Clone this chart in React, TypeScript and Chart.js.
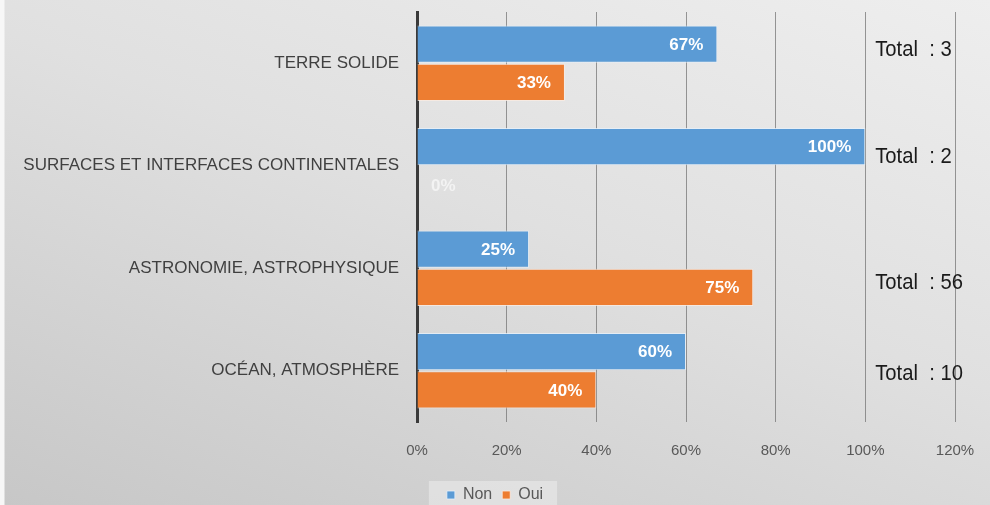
import React, { useEffect, useRef } from "react";
import { Chart, registerables } from "chart.js";

Chart.register(...registerables);

const categories = [
  "TERRE SOLIDE",
  "SURFACES ET INTERFACES CONTINENTALES",
  "ASTRONOMIE, ASTROPHYSIQUE",
  "OCÉAN, ATMOSPHÈRE",
];
const nonValues = [0.67, 1.0, 0.25, 0.6];
const ouiValues = [0.33, 0, 0.75, 0.4];
const totals = [3, 2, 56, 10];
const seriesNames = ["Non", "Oui"];

const BLUE = "#5b9bd5";
const ORANGE = "#ed7d31";
const SANS = "'Liberation Sans', Arial, sans-serif";

const TOTAL_DY = [-13, -9, 15, 3];

const labelPlugin = {
  id: "barLabels",
  beforeDraw(chart: any) {
    const lg = chart.legend;
    if (!lg || !lg.legendHitBoxes || !lg.legendHitBoxes.length) return;
    const boxes = lg.legendHitBoxes;
    let minL = Infinity, maxR = -Infinity, minT = Infinity;
    boxes.forEach((b: any) => {
      minL = Math.min(minL, b.left);
      maxR = Math.max(maxR, b.left + b.width);
      minT = Math.min(minT, b.top);
    });
    const ctx = chart.ctx;
    ctx.save();
    ctx.fillStyle = "rgba(240,240,240,0.5)";
    ctx.fillRect(minL - 18, minT - 6, maxR - minL + 32, chart.height - minT + 6);
    ctx.restore();
  },
  afterDatasetsDraw(chart: any) {
    const ctx = chart.ctx;
    ctx.save();
    ctx.font = `bold 17px ${SANS}`;
    ctx.textBaseline = "middle";
    ctx.textAlign = "right";
    chart.data.datasets.forEach((ds: any, di: number) => {
      const meta = chart.getDatasetMeta(di);
      meta.data.forEach((el: any, i: number) => {
        const v = ds.data[i];
        const txt = `${Math.round(v * 100)}%`;
        const w = ctx.measureText(txt).width;
        const x = Math.max(el.x - 14, el.base + 14 + w);
        ctx.fillStyle = v === 0 ? "rgba(255,255,255,0.6)" : "#ffffff";
        ctx.fillText(txt, x, el.y + 1);
      });
    });
    const xs = chart.scales.x;
    const ys = chart.scales.y;
    ctx.font = `22px ${SANS}`;
    ctx.fillStyle = "#1a1a1a";
    ctx.textAlign = "left";
    totals.forEach((t, i) => {
      const x = xs.getPixelForValue(1.022);
      const y = ys.getPixelForValue(i) + TOTAL_DY[i];
      ctx.save();
      ctx.translate(x, y);
      ctx.scale(0.92, 1);
      ctx.fillText(`Total  : ${t}`, 0, 0);
      ctx.restore();
    });
    ctx.restore();
  },
};

export default function App() {
  const ref = useRef<HTMLCanvasElement | null>(null);
  useEffect(() => {
    if (!ref.current) return;
    const chart = new Chart(ref.current, {
      type: "bar",
      data: {
        labels: categories,
        datasets: [
          {
            label: seriesNames[0],
            data: nonValues,
            backgroundColor: BLUE,
            borderColor: "rgba(230,240,250,0.8)",
            borderWidth: 1,
            categoryPercentage: 0.745,
            barPercentage: 0.975,
          },
          {
            label: seriesNames[1],
            data: ouiValues,
            backgroundColor: ORANGE,
            borderColor: "rgba(250,235,225,0.8)",
            borderWidth: 1,
            categoryPercentage: 0.745,
            barPercentage: 0.975,
          },
        ],
      },
      options: {
        indexAxis: "y",
        animation: false,
        responsive: false,
        maintainAspectRatio: false,
        layout: { padding: { top: 12, right: 0, left: 0, bottom: -8 } },
        plugins: {
          tooltip: { enabled: false },
          legend: {
            position: "bottom",
            labels: {
              boxWidth: 8,
              boxHeight: 8,
              padding: 10,
              color: "#595959",
              font: { family: SANS, size: 16 },
            },
          },
        },
        scales: {
          x: {
            min: 0,
            max: 1.2,
            ticks: {
              stepSize: 0.2,
              padding: 20,
              color: "#595959",
              font: { family: SANS, size: 15 },
              callback: (v: any) => `${Math.round(Number(v) * 100)}%`,
            },
            grid: {
              drawTicks: false,
              color: (c: any) => (c.tick && c.tick.value === 0 ? "rgba(0,0,0,0)" : "rgba(110,110,110,0.7)"),
              lineWidth: 1,
            },
            border: { display: false },
            afterFit: (s: any) => {
              s.height = 55;
              s.paddingRight = 35;
            },
          },
          y: {
            ticks: {
              padding: 18,
              color: "#404040",
              font: { family: SANS, size: 17 },
            },
            grid: { display: false, drawTicks: false },
            border: { display: true, color: "#3a3a3a", width: 3 },
            afterFit: (s: any) => {
              s.width = 417;
              s.paddingTop = 0;
              s.paddingBottom = 0;
            },
          },
        },
      },
      plugins: [labelPlugin],
    });
    return () => chart.destroy();
  }, []);

  return (
    <div
      style={{
        position: "fixed",
        left: 0,
        top: 0,
        width: 990,
        height: 505,
        background:
          "linear-gradient(to right, #f7f7f7 0px, #f7f7f7 4px, rgba(0,0,0,0) 5px), linear-gradient(200deg, #eeeeee 0%, #e0e0e0 45%, #c7c7c7 100%)",
      }}
    >
      <canvas ref={ref} width={990} height={505} style={{ display: "block" }} />
    </div>
  );
}
